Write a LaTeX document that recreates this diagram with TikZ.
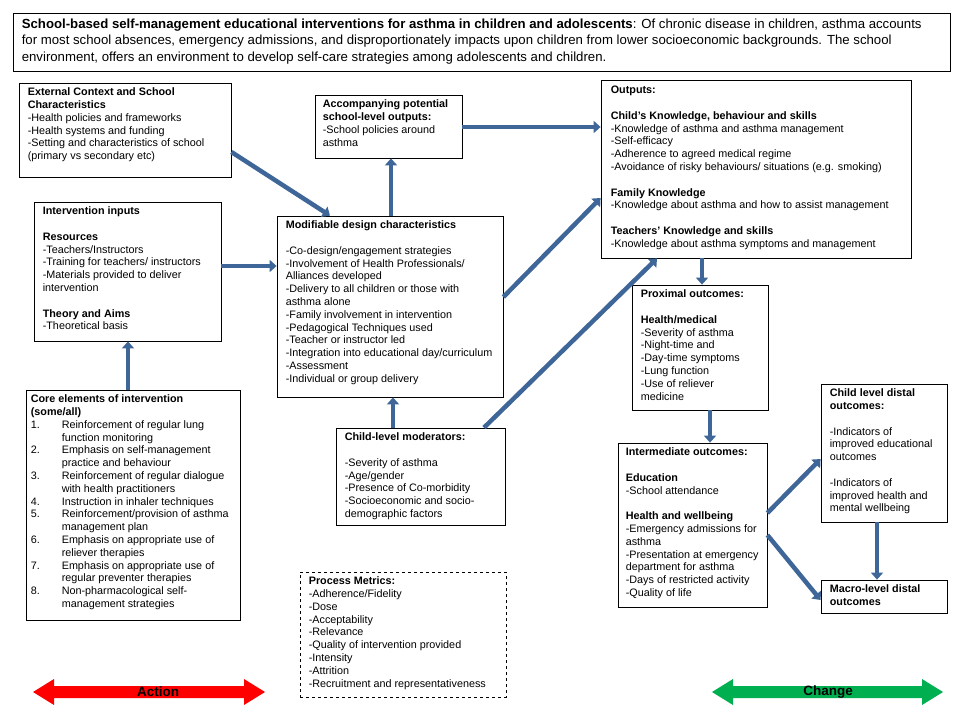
\documentclass[tikz,border=0pt]{standalone}
\usepackage{fontspec}
\setmainfont{Liberation Sans}
\usetikzlibrary{arrows.meta,fit}
\definecolor{flowblue}{HTML}{3F6698}
\definecolor{actred}{HTML}{FF0000}
\definecolor{chggreen}{HTML}{00B050}
\newcommand\itm[1]{\makebox[31pt][l]{#1}}
\newcommand\ind{\hspace*{31pt}}
\begin{document}
\begin{tikzpicture}[x=1pt,y=-1pt,
  box/.style={draw=black, line width=0.8pt, fill=white, inner sep=0pt},
  txt/.style={anchor=north west, inner sep=0pt, align=left, font=\fontsize{10.8}{12.8}\selectfont},
  flow/.style={draw=flowblue, line width=4.5pt, -{Triangle[width=12pt,length=7pt]}},
  big/.style={font=\fontsize{13.5}{15}\selectfont\bfseries, inner sep=0pt}
]
\useasboundingbox (0,0) rectangle (960,720);
\fill[white] (0,0) rectangle (960,720);

% header
\node[box, fit={(13,13) (950,71)}] (hdr) {};
\node[txt, font=\fontsize{13.2}{16.5}\selectfont] (hdrt) at ([xshift=9,yshift=-4]hdr.north west)
 {\strut\textbf{School-based self-management educational interventions for asthma in children and adolescents}: Of chronic disease in children, asthma accounts\\
  for most school absences, emergency admissions, and disproportionately impacts upon children from lower socioeconomic backgrounds. The school\\
  environment, offers an environment to develop self-care strategies among adolescents and children.};

% boxes
\node[box, fit={(19,83) (231,177)}] (ext) {};
\node[txt] (extt) at ([xshift=9,yshift=-4]ext.north west)
 {\strut\textbf{External Context and School}\\ \textbf{Characteristics}\\
  -Health policies and frameworks\\ -Health systems and funding\\
  -Setting and characteristics of school\\ (primary vs secondary etc)};

\node[box, fit={(315,95) (462,158)}] (acc) {};
\node[txt] (acct) at ([xshift=8,yshift=-4]acc.north west)
 {\strut\textbf{Accompanying potential}\\ \textbf{school-level outputs:}\\
  -School policies around\\ asthma};

\node[box, fit={(601,80) (911,258)}] (out) {};
\node[txt] (outt) at ([xshift=10,yshift=-5]out.north west)
 {\strut\textbf{Outputs:}\\[12.8pt]
  \textbf{Child's Knowledge, behaviour and skills}\\
  -Knowledge of asthma and asthma management\\
  -Self-efficacy\\
  -Adherence to agreed medical regime\\
  -Avoidance of risky behaviours/ situations (e.g. smoking)\\[12.8pt]
  \textbf{Family Knowledge}\\
  -Knowledge about asthma and how to assist management\\[12.8pt]
  \textbf{Teachers' Knowledge and skills}\\
  -Knowledge about asthma symptoms and management};

\node[box, fit={(34,202) (221,341)}] (inp) {};
\node[txt] (inpt) at ([xshift=9,yshift=-4]inp.north west)
 {\strut\textbf{Intervention inputs}\\[12.8pt]
  \textbf{Resources}\\
  -Teachers/Instructors\\
  -Training for teachers/ instructors\\
  -Materials provided to deliver\\
  intervention\\[12.8pt]
  \textbf{Theory and Aims}\\
  -Theoretical basis};

\node[box, fit={(277,216) (503,397)}] (mod) {};
\node[txt] (modt) at ([xshift=9,yshift=-4]mod.north west)
 {\strut\textbf{Modifiable design characteristics}\\[12.8pt]
  -Co-design/engagement strategies\\
  -Involvement of Health Professionals/\\
  Alliances developed\\
  -Delivery to all children or those with\\
  asthma alone\\
  -Family involvement in intervention\\
  -Pedagogical Techniques used\\
  -Teacher or instructor led\\
  -Integration into educational day/curriculum\\
  -Assessment\\
  -Individual or group delivery};

\node[box, fit={(26,390) (240,620)}] (core) {};
\node[txt] (coret) at ([xshift=5,yshift=-4]core.north west)
 {\strut\textbf{Core elements of intervention}\\ \textbf{(some/all)}\\
  \itm{1.}Reinforcement of regular lung\\ \ind function monitoring\\
  \itm{2.}Emphasis on self-management\\ \ind practice and behaviour\\
  \itm{3.}Reinforcement of regular dialogue\\ \ind with health practitioners\\
  \itm{4.}Instruction in inhaler techniques\\
  \itm{5.}Reinforcement/provision of asthma\\ \ind management plan\\
  \itm{6.}Emphasis on appropriate use of\\ \ind reliever therapies\\
  \itm{7.}Emphasis on appropriate use of\\ \ind regular preventer therapies\\
  \itm{8.}Non-pharmacological self-\\ \ind management strategies};

\node[box, fit={(336,428) (505,525)}] (mor) {};
\node[txt] (mort) at ([xshift=9,yshift=-4]mor.north west)
 {\strut\textbf{Child-level moderators:}\\[12.8pt]
  -Severity of asthma\\
  -Age/gender\\
  -Presence of Co-morbidity\\
  -Socioeconomic and socio-\\
  demographic factors};

\node[box, dashed, fit={(300,572) (506,697)}] (proc) {};
\node[txt] (proct) at ([xshift=9,yshift=-4]proc.north west)
 {\strut\textbf{Process Metrics:}\\
  -Adherence/Fidelity\\ -Dose\\ -Acceptability\\ -Relevance\\
  -Quality of intervention provided\\ -Intensity\\ -Attrition\\
  -Recruitment and representativeness};

\node[box, fit={(632,285) (768,410)}] (prox) {};
\node[txt] (proxt) at ([xshift=9,yshift=-4]prox.north west)
 {\strut\textbf{Proximal outcomes:}\\[12.8pt]
  \textbf{Health/medical}\\
  -Severity of asthma\\ -Night-time and\\ -Day-time symptoms\\
  -Lung function\\ -Use of reliever\\ medicine};

\node[box, fit={(618,443) (767,607)}] (intm) {};
\node[txt] (intmt) at ([xshift=8,yshift=-4]intm.north west)
 {\strut\textbf{Intermediate outcomes:}\\[12.8pt]
  \textbf{Education}\\
  -School attendance\\[12.8pt]
  \textbf{Health and wellbeing}\\
  -Emergency admissions for\\ asthma\\
  -Presentation at emergency\\ department for asthma\\
  -Days of restricted activity\\ -Quality of life};

\node[box, fit={(821,384) (947,522)}] (cdist) {};
\node[txt] (cdistt) at ([xshift=9,yshift=-4]cdist.north west)
 {\strut\textbf{Child level distal}\\ \textbf{outcomes:}\\[12.8pt]
  -Indicators of\\ improved educational\\ outcomes\\[12.8pt]
  -Indicators of\\ improved health and\\ mental wellbeing};

\node[box, fit={(821,580) (947,613)}] (macro) {};
\node[txt] (macrot) at ([xshift=9,yshift=-4]macro.north west)
 {\strut\textbf{Macro-level distal}\\ \textbf{outcomes}};

% connectors
\draw[flow] (ext.east |- 0,152) -- (mod.north -| 330,0);
\draw[flow] (mod.north -| 391,0) -- (acc.south -| 391,0);
\draw[flow] (acc.east |- 0,127) -- (out.west |- 0,127);
\draw[flow] (inp.east |- 0,266) -- (mod.west |- 0,266);
\draw[flow] (mod.east |- 0,297) -- (out.west |- 0,198);
\draw[flow] (mor.north -| 393,0) -- (mod.south -| 393,0);
\draw[flow] (mor.north -| 484,0) -- (out.south -| 657,0);
\draw[flow] (core.north -| 128,0) -- (inp.south -| 128,0);
\draw[flow] (out.south -| 702,0) -- (prox.north -| 702,0);
\draw[flow] (prox.south -| 710,0) -- (intm.north -| 710,0);
\draw[flow] (intm.east |- 0,513) -- (cdist.west |- 0,459);
\draw[flow] (intm.east |- 0,535) -- (macro.west |- 0,600);
\draw[flow] (cdist.south -| 877,0) -- (macro.north -| 877,0);

% bottom double arrows
\fill[actred] (33,692) -- (54,679) -- (54,686) -- (244,686) -- (244,679) -- (265,692)
  -- (244,705) -- (244,698) -- (54,698) -- (54,705) -- cycle;
\node[big] (action) at (158,692) {Action};
\fill[chggreen] (712,692) -- (733,679) -- (733,686) -- (922,686) -- (922,679) -- (943,692)
  -- (922,705) -- (922,698) -- (733,698) -- (733,705) -- cycle;
\node[big] (change) at (828,692) {Change};
\end{tikzpicture}
\end{document}
